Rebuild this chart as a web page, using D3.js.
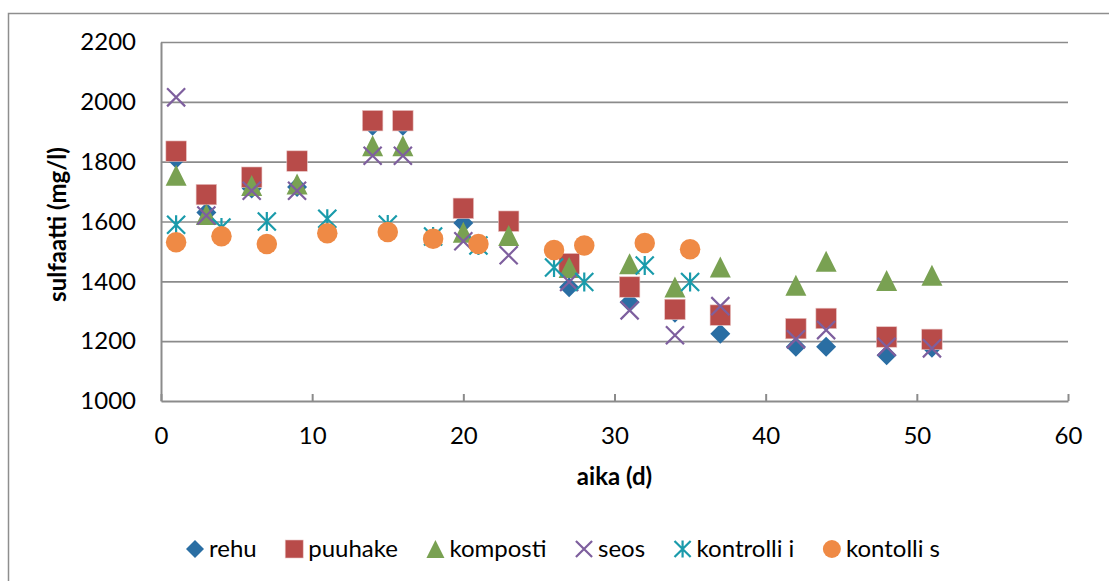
<!DOCTYPE html>
<html>
<head>
<meta charset="utf-8">
<script src="https://cdn.jsdelivr.net/npm/d3@7/dist/d3.min.js"></script>
<style>
  html, body { margin: 0; padding: 0; background: #fff; }
  svg { display: block; font-family: Lato, "Open Sans", sans-serif; }
</style>
</head>
<body>
<svg id="chart" width="1109" height="581"></svg>
<script>
// ---- Data ----
const seriesNames = ["rehu", "puuhake", "komposti", "seos", "kontrolli i", "kontolli s"];
const daysA = [1, 3, 6, 9, 14, 16, 20, 23, 27, 31, 34, 37, 42, 44, 48, 51];
const daysB = [1, 4, 7, 11, 15, 18, 21, 26, 28, 32, 35];
const rehu     = [1810, 1630, 1710, 1715, 1920, 1920, 1595, 1595, 1380, 1330, 1295, 1225, 1181, 1181, 1153, 1178];
const puuhake  = [1835, 1690, 1748, 1802, 1937, 1937, 1644, 1601, 1459, 1381, 1306, 1287, 1242, 1276, 1214, 1206];
const komposti = [1755, 1623, 1720, 1725, 1853, 1853, 1564, 1553, 1446, 1459, 1381, 1448, 1387, 1467, 1403, 1420];
const seos     = [2015, 1620, 1703, 1703, 1820, 1820, 1534, 1487, 1398, 1303, 1220, 1317, 1206, 1237, 1181, 1176];
const kontrolliI = [1589, 1580, 1600, 1609, 1590, 1550, 1520, 1446, 1398, 1453, 1398];
const kontolliS  = [1531, 1551, 1525, 1561, 1565, 1542, 1525, 1505, 1520, 1528, 1507];
const xTicks = [0, 10, 20, 30, 40, 50, 60];
const yTicks = [1000, 1200, 1400, 1600, 1800, 2000, 2200];
const xTitle = "aika (d)";
const yTitle = "sulfaatti (mg/l)";

const series = [
  { name: seriesNames[0], days: daysA, values: rehu,       shape: "diamond",  color: "#2a6ea3" },
  { name: seriesNames[1], days: daysA, values: puuhake,    shape: "square",   color: "#b84b49" },
  { name: seriesNames[2], days: daysA, values: komposti,   shape: "triangle", color: "#79a152" },
  { name: seriesNames[3], days: daysA, values: seos,       shape: "x",        color: "#7e5f9e" },
  { name: seriesNames[4], days: daysB, values: kontrolliI, shape: "star",     color: "#1a9bab" },
  { name: seriesNames[5], days: daysB, values: kontolliS,  shape: "circle",   color: "#ef8a45" }
];

// ---- Layout ----
const svg = d3.select("#chart");
const plot = { left: 161, right: 1068, top: 42, bottom: 401 };
const x = d3.scaleLinear().domain([0, 60]).range([plot.left, plot.right]);
const y = d3.scaleLinear().domain([1000, 2200]).range([plot.bottom, plot.top]);
const gridColor = "#8b8b8b";
const fontSize = 24;

// outer frame (extends beyond right/bottom edge as in reference)
svg.append("rect")
  .attr("x", 8.5).attr("y", 13.5)
  .attr("width", 1120).attr("height", 600)
  .attr("fill", "none").attr("stroke", "#8e8e8e").attr("stroke-width", 1.5);

// gridlines
const grid = svg.append("g").attr("transform", `translate(${plot.left},0)`)
  .call(d3.axisLeft(y).tickValues(yTicks.filter(v => v > 1000)).tickSize(-(plot.right - plot.left)).tickFormat(""));
grid.select(".domain").remove();
grid.selectAll(".tick line").attr("stroke", gridColor).attr("stroke-width", 1.6);

// y axis
const yAx = svg.append("g").attr("transform", `translate(${plot.left},0)`)
  .call(d3.axisLeft(y).tickValues(yTicks).tickFormat(d3.format("d")).tickSize(0).tickPadding(25));
yAx.select(".domain").attr("stroke", gridColor).attr("stroke-width", 2);
yAx.selectAll(".tick text").attr("font-size", fontSize).attr("fill", "#000")
  .attr("font-family", "Lato, 'Open Sans', sans-serif");

// x axis with inward ticks
const xAx = svg.append("g").attr("transform", `translate(0,${plot.bottom})`)
  .call(d3.axisBottom(x).tickValues(xTicks).tickFormat(d3.format("d")).tickSizeInner(-7).tickSizeOuter(0).tickPadding(0));
xAx.select(".domain").attr("stroke", gridColor).attr("stroke-width", 2);
xAx.selectAll(".tick line").attr("stroke", gridColor).attr("stroke-width", 2);
xAx.selectAll(".tick text").attr("font-size", fontSize).attr("fill", "#000")
  .attr("font-family", "Lato, 'Open Sans', sans-serif")
  .attr("dy", null).attr("y", 43);

// axis titles
svg.append("text")
  .attr("x", (plot.left + plot.right) / 2).attr("y", 485)
  .attr("text-anchor", "middle").attr("font-size", fontSize).attr("font-weight", "bold")
  .text(xTitle);
svg.append("text")
  .attr("transform", `translate(66,${(plot.top + plot.bottom) / 2 + 3}) rotate(-90)`)
  .attr("text-anchor", "middle").attr("font-size", fontSize).attr("font-weight", "bold")
  .text(yTitle);

// ---- marker drawing ----
function drawMarker(g, shape, color, s) {
  const h = s / 2;
  if (shape === "diamond") {
    g.append("path").attr("d", `M0,${-h}L${h},0L0,${h}L${-h},0Z`).attr("fill", color);
  } else if (shape === "square") {
    g.append("rect").attr("x", -h).attr("y", -h).attr("width", s).attr("height", s).attr("fill", color)
      .attr("stroke", "#e8c4c3").attr("stroke-width", 0.6);
  } else if (shape === "triangle") {
    g.append("path").attr("d", `M0,${-h}L${h},${h}L${-h},${h}Z`).attr("fill", color);
  } else if (shape === "circle") {
    g.append("circle").attr("r", h).attr("fill", color);
  } else if (shape === "x") {
    const a = h * 0.95;
    g.append("path").attr("d", `M${-a},${-a}L${a},${a}M${-a},${a}L${a},${-a}`)
      .attr("stroke", color).attr("stroke-width", 2.2).attr("fill", "none");
  } else if (shape === "star") {
    const a = h * 0.95;
    g.append("path").attr("d", `M${-a},${-a}L${a},${a}M${-a},${a}L${a},${-a}M0,${-h}L0,${h}`)
      .attr("stroke", color).attr("stroke-width", 2.2).attr("fill", "none");
  }
}

const markerSize = { diamond: 20, square: 20.5, triangle: 21, circle: 20.5, x: 19, star: 19 };

series.forEach(sr => {
  const g = svg.append("g").attr("class", "series");
  sr.days.forEach((d, i) => {
    const m = g.append("g").attr("transform", `translate(${x(d)},${y(sr.values[i])})`);
    drawMarker(m, sr.shape, sr.color, markerSize[sr.shape]);
  });
});

// ---- legend ----
const legend = svg.append("g");
const legendY = 549;
const items = [];
let cursor = 0;
const gap = 37.5, textOff = 14;
series.forEach((sr, i) => {
  const it = legend.append("g");
  drawMarker(it.append("g"), sr.shape, sr.color, sr.shape === "x" || sr.shape === "star" ? 17 : 18);
  const t = it.append("text").attr("x", textOff).attr("y", 8).attr("font-size", fontSize).attr("fill", "#000").text(sr.name);
  const w = t.node().getComputedTextLength();
  items.push({ g: it, pos: cursor });
  cursor += textOff + w + gap;
});
const totalW = cursor - gap + 9;
const startX = 563 - totalW / 2 + 9;
items.forEach(it => it.g.attr("transform", `translate(${startX + it.pos},${legendY})`));
</script>
</body>
</html>
